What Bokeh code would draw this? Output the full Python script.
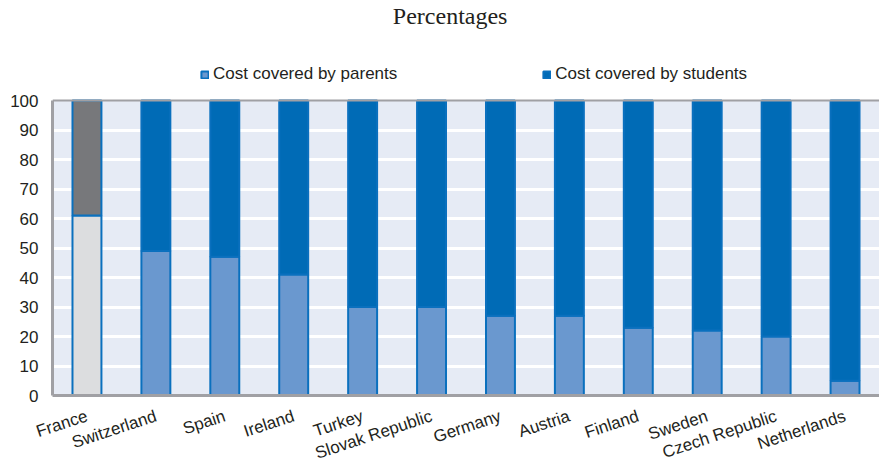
from bokeh.plotting import figure
from bokeh.models import (ColumnDataSource, Range1d, FixedTicker, Label, Legend,
                          LegendItem, Span)
from bokeh.embed import file_html
from bokeh.resources import INLINE

# Share of cost covered by parents vs. students (percent)
countries = ["France", "Switzerland", "Spain", "Ireland", "Turkey", "Slovak Republic",
             "Germany", "Austria", "Finland", "Sweden", "Czech Republic", "Netherlands"]
parents = [61, 49, 47, 41, 30, 30, 27, 27, 23, 22, 20, 5]
students = [39, 51, 53, 59, 70, 70, 73, 73, 77, 78, 80, 95]
y_ticks = [0, 10, 20, 30, 40, 50, 60, 70, 80, 90, 100]

PARENT_BLUE = "#6A98CF"
STUDENT_BLUE = "#006BB6"
EDGE_BLUE = "#0A70BE"
AXIS_GREY = "#A0A0A4"
PLOT_BG = "#E6EBF5"
TEXT = "#231F20"

# France is shown in grey, all other countries in blue
parent_colors = ["#DCDDDF"] + [PARENT_BLUE] * (len(countries) - 1)
student_colors = ["#77787B"] + [STUDENT_BLUE] * (len(countries) - 1)

source = ColumnDataSource(dict(
    country=countries,
    p_top=parents,
    s_top=[a + b for a, b in zip(parents, students)],
    zero=[0] * len(countries),
    p_color=parent_colors,
    s_color=student_colors,
))

# frame covers the header too; the shaded plot area stops at 100
PLOT_H, FRAME_H = 295, 395
y_top = 100 * FRAME_H / PLOT_H

p = figure(x_range=countries, y_range=Range1d(0, y_top), width=879, height=474,
           output_backend="svg", toolbar_location=None, title=None,
           min_border_left=52, min_border_right=0, min_border_top=0,
           min_border_bottom=79)
p.background_fill_color = "white"
p.border_fill_color = "white"
p.outline_line_color = None

# shaded plot area, drawn beneath the grid lines
p.quad(left=[-1], right=[len(countries) + 1], bottom=[0], top=[100],
       fill_color=PLOT_BG, line_color=None, level="image")

bar_w = 0.42
r_par = p.vbar(x="country", bottom="zero", top="p_top", width=bar_w, source=source,
               fill_color="p_color", line_color=EDGE_BLUE, line_width=2)
r_stu = p.vbar(x="country", bottom="p_top", top="s_top", width=bar_w, source=source,
               fill_color="s_color", line_color=EDGE_BLUE, line_width=2)

# grid
p.xgrid.visible = False
p.ygrid.ticker = FixedTicker(ticks=y_ticks[1:-1])
p.ygrid.grid_line_color = "white"
p.ygrid.grid_line_width = 3

# axes
yax = p.yaxis[0]
xax = p.xaxis[0]
yax.ticker = FixedTicker(ticks=y_ticks)
yax.bounds = (0, 100)
for ax in (xax, yax):
    ax.axis_line_color = AXIS_GREY
    ax.axis_line_width = 3
    ax.major_tick_line_color = None
    ax.minor_tick_line_color = None
    ax.major_tick_out = 0
    ax.major_tick_in = 0
    ax.minor_tick_out = 0
    ax.minor_tick_in = 0
    ax.major_label_text_font = "Liberation Sans"
    ax.major_label_text_font_size = "17px"
    ax.major_label_text_color = TEXT
yax.major_label_standoff = 14
xax.major_label_standoff = 20
xax.major_label_orientation = 0.32

p.add_layout(Span(location=100, dimension="width", line_color=AXIS_GREY, line_width=2))

# title
p.add_layout(Label(x=5.77, y=128.8, text="Percentages", text_font="Liberation Serif",
                   text_font_size="24px", text_color=TEXT, text_align="center",
                   text_baseline="middle"))

# legend above the plot area
legend = Legend(items=[
    LegendItem(label="Cost covered by parents", renderers=[r_par], index=1),
    LegendItem(label="Cost covered by students", renderers=[r_stu], index=1),
], orientation="horizontal", location=(148, 311), padding=0, margin=0, spacing=145,
    glyph_width=9, glyph_height=9, label_height=20, label_standoff=4,
    label_text_font="Liberation Sans", label_text_font_size="17px",
    label_text_color=TEXT, border_line_color=None, background_fill_alpha=0)
p.add_layout(legend)

open("out.html", "w").write(file_html(p, INLINE))
